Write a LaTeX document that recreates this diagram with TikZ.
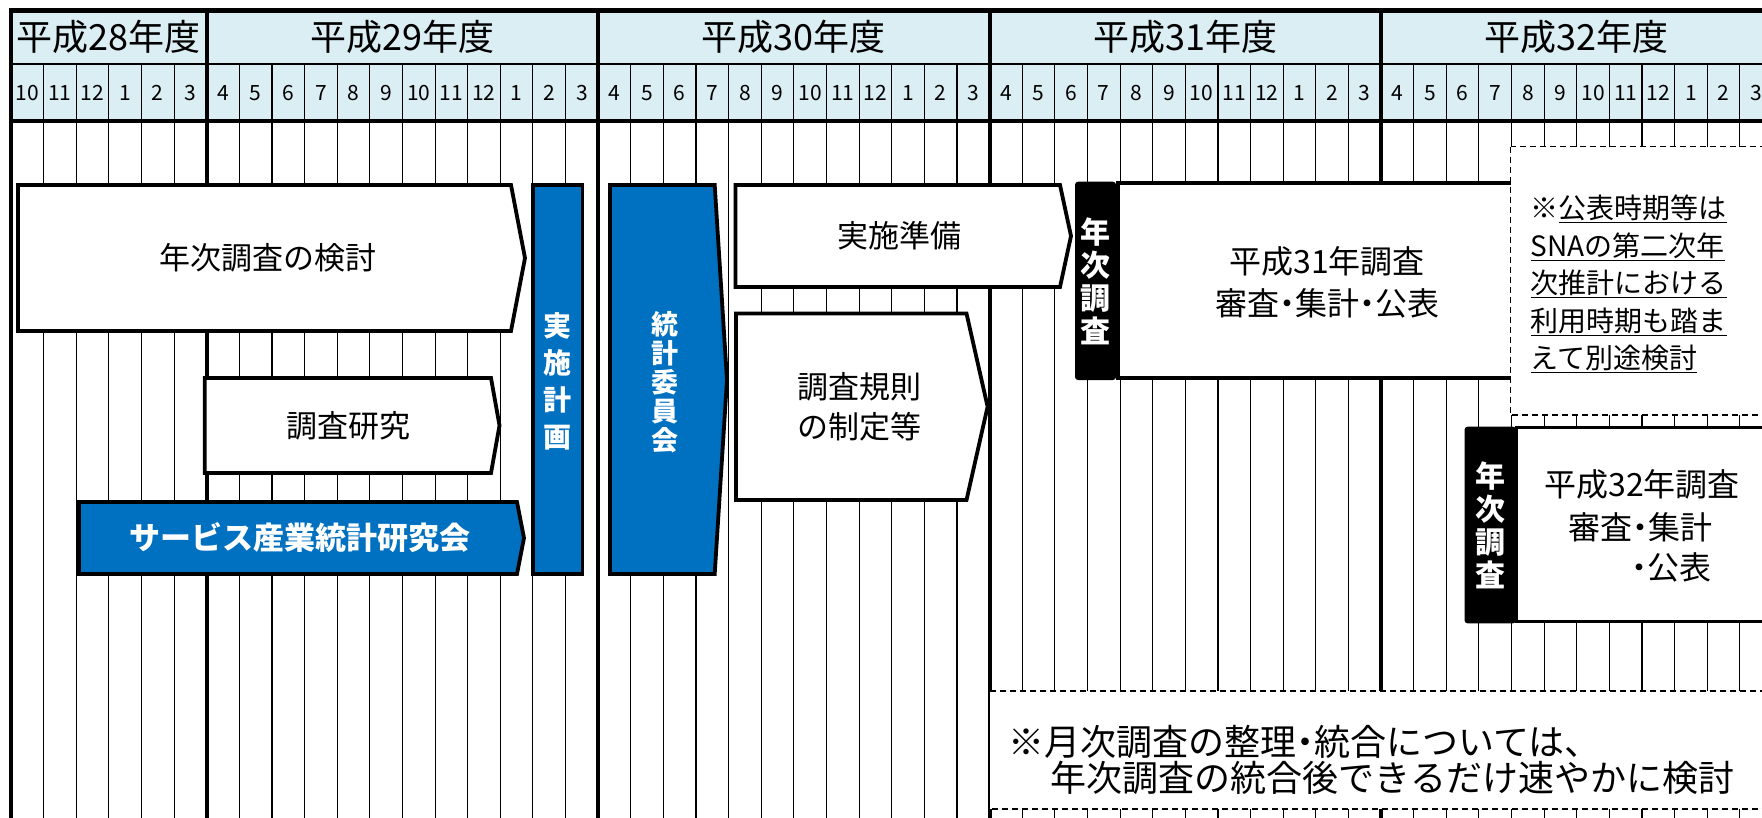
\documentclass[tikz,border=0pt]{standalone}
\usepackage{fontspec}
\setmainfont{Noto Sans CJK JP}
\definecolor{hdrfill}{RGB}{218,238,243}
\definecolor{blueboxc}{RGB}{0,112,192}
\newcommand{\nk}{\kern-0.25em・\kern-0.25em}
\begin{document}
\begin{tikzpicture}[x=1pt,y=-1pt,
  gridthin/.style={line width=1.1pt},
  gridthick/.style={line width=3.8pt},
  whitebox/.style={draw=black,fill=white,line width=3.8pt},
  bluebox/.style={draw=black,fill=blueboxc,line width=3.8pt},
  blackbox/.style={fill=black,rounded corners=3pt},
  notebox/.style={draw=black,fill=white,line width=1.5pt,dash pattern=on 6pt off 4pt},
  lbl/.style={inner sep=0pt,align=center,text=black},
  vlbl/.style={inner sep=0pt,align=center,text=white},
  yearlbl/.style={inner sep=0pt,font=\fontsize{36}{40}\selectfont},
  monthlbl/.style={inner sep=0pt,font=\fontsize{21}{24}\selectfont}
]
\useasboundingbox (0,0) rectangle (1762,817);
\clip (0,0) rectangle (1762,817);

% header background
\fill[hdrfill] (11,10.5) rectangle (1775,121);

% thin month lines (month row and body)
\foreach \i in {1,...,53} {
  \draw[gridthin] ({11+\i*32.62},64) -- ({11+\i*32.62},820);
}
% thick year boundaries and left border
\foreach \i in {0,6,18,30,42} {
  \draw[gridthick] ({11+\i*32.62},8.5) -- ({11+\i*32.62},820);
}
% horizontal header lines
\draw[line width=4.3pt] (9,10.5) -- (1775,10.5);
\draw[line width=2.5pt] (11,64) -- (1775,64);
\draw[line width=4.5pt] (9,121) -- (1775,121);

% year labels
\node[yearlbl] (y28) at (108.9,37) {平成28年度};
\node[yearlbl] (y29) at (402.4,37) {平成29年度};
\node[yearlbl] (y30) at (793.9,37) {平成30年度};
\node[yearlbl] (y31) at (1185.3,37) {平成31年度};
\node[yearlbl] (y32) at (1576.8,37) {平成32年度};

% month labels
\foreach \m [count=\i from 0] in {10,11,12,1,2,3,
  4,5,6,7,8,9,10,11,12,1,2,3,
  4,5,6,7,8,9,10,11,12,1,2,3,
  4,5,6,7,8,9,10,11,12,1,2,3,
  4,5,6,7,8,9,10,11,12,1,2,3} {
  \node[monthlbl] (m\i) at ({11+(\i+0.5)*32.62},93) {\m};
}

% ---- boxes ----
\draw[whitebox] (18,185) -- (511,185) -- (525,258) -- (511,331) -- (18,331) -- cycle;
\draw[whitebox] (204.7,378) -- (491,378) -- (499.5,425.5) -- (491,473) -- (204.7,473) -- cycle;
\draw[bluebox] (79,502) -- (517,502) -- (524,538) -- (517,574) -- (79,574) -- cycle;
\draw[bluebox] (533,185) rectangle (582.5,574);
\draw[bluebox] (610,185) -- (714.7,185) -- (727,380) -- (714.7,574) -- (610,574) -- cycle;
\draw[whitebox] (735.5,185) -- (1060,185) -- (1071,236) -- (1060,287) -- (735.5,287) -- cycle;
\draw[whitebox] (736,313.5) -- (966.5,313.5) -- (987.6,406.7) -- (966.5,500) -- (736,500) -- cycle;
\fill[blackbox] (1075,181.7) rectangle (1116,380);
\draw[whitebox] (1118,183.3) rectangle (1650,378.3);
\draw[notebox] (1510.5,146.7) rectangle (1790,415);
\fill[blackbox] (1464.5,426.7) rectangle (1516,623.3);
\draw[whitebox] (1516.5,427.5) rectangle (1790,621.5);
\draw[notebox] (989.6,691) rectangle (1790,809);

% ---- labels ----
\node[lbl,font=\fontsize{31}{40}\selectfont] (kentou) at (267.5,258) {年次調査の検討};
\node[lbl,font=\fontsize{31}{40}\selectfont] (kenkyu) at (348,425.5) {調査研究};
\node[lbl,text=white,font=\bfseries\fontsize{31}{40}\selectfont] (kenkyukai) at (300,538) {サービス産業統計研究会};
\node[vlbl,font=\bfseries\fontsize{28}{37}\selectfont] (jisshikeikaku) at (557.6,381) {実\\施\\計\\画};
\node[vlbl,font=\bfseries\fontsize{27}{29}\selectfont] (iinkai) at (664.5,382) {統\\計\\委\\員\\会};
\node[lbl,font=\fontsize{31}{40}\selectfont] (junbi) at (899,236) {実施準備};
\node[lbl,font=\fontsize{31}{40}\selectfont] (kisoku) at (859.6,407) {調査規則\\の制定等};
\node[vlbl,font=\bfseries\fontsize{30}{33}\selectfont] (nenji1) at (1095.5,281) {年\\次\\調\\査};
\node[lbl,font=\fontsize{32}{41.6}\selectfont] (h31) at (1327,282.6) {平成31年調査\\審査\nk 集計\nk 公表};
\node[lbl,align=left,anchor=west,font=\fontsize{28}{37.4}\selectfont] (note1) at (1530.5,284)
  {※\underline{公表時期等は}\\\underline{SNAの第二次年}\\\underline{次推計における}\\\underline{利用時期も踏ま}\\\underline{えて別途検討}};
\node[vlbl,font=\bfseries\fontsize{30}{33}\selectfont] (nenji2) at (1490,525) {年\\次\\調\\査};
\node[lbl,font=\fontsize{32}{40}\selectfont] (h32a) at (1642,484) {平成32年調査};
\node[lbl,font=\fontsize{32}{40}\selectfont] (h32b) at (1640,527) {審査\nk 集計};
\node[lbl,anchor=east,font=\fontsize{32}{40}\selectfont] (h32c) at (1712,567.5) {\nk 公表};
\node[lbl,anchor=west,font=\fontsize{36}{40}\selectfont] (note2a) at (1008,741.6) {※月次調査の整理\nk 統合については、};
\node[lbl,anchor=west,font=\fontsize{36}{40}\selectfont] (note2b) at (1050.7,777.6) {年次調査の統合後できるだけ速やかに検討};
\end{tikzpicture}
\end{document}
